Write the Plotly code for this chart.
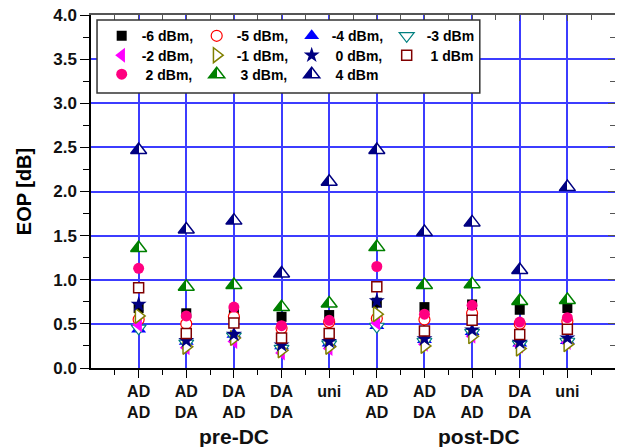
import plotly.graph_objects as go

# ---------------- data ----------------
cat_pos = [1, 2, 3, 4, 5, 6, 7, 8, 9, 10]
line1 = ["AD", "AD", "DA", "DA", "uni", "AD", "AD", "DA", "DA", "uni"]
line2 = ["AD", "DA", "AD", "DA", "", "AD", "DA", "AD", "DA", ""]
groups = ["pre-DC", "post-DC"]
group_pos = [3, 8.15]

names = ["-6 dBm,", "-5 dBm,", "-4 dBm,", "-3 dBm",
         "-2 dBm,", "-1 dBm,", "\u00a00 dBm,", "\u00a01 dBm",
         "\u00a02 dBm,", "\u00a03 dBm,", "\u00a04 dBm"]

p_m6 = [0.68, 0.62, 0.63, 0.58, 0.60, 0.74, 0.69, 0.72, 0.66, 0.68]
p_m5 = [0.55, 0.50, 0.58, 0.45, 0.52, 0.56, 0.55, 0.62, 0.50, 0.53]
p_m4 = [0.44, 0.30, 0.38, 0.25, 0.28, 0.48, 0.32, 0.41, 0.28, 0.31]
p_m3 = [0.45, 0.28, 0.36, 0.22, 0.27, 0.47, 0.30, 0.40, 0.27, 0.30]
p_m2 = [0.49, 0.23, 0.30, 0.17, 0.22, 0.51, 0.27, 0.36, 0.25, 0.29]
p_m1 = [0.59, 0.24, 0.34, 0.20, 0.24, 0.61, 0.25, 0.36, 0.22, 0.27]
p_0 = [0.72, 0.31, 0.38, 0.26, 0.30, 0.76, 0.33, 0.43, 0.29, 0.34]
p_1 = [0.91, 0.39, 0.51, 0.34, 0.39, 0.92, 0.42, 0.54, 0.38, 0.44]
p_2 = [1.13, 0.59, 0.69, 0.48, 0.54, 1.15, 0.61, 0.71, 0.52, 0.57]
p_3 = [1.36, 0.92, 0.94, 0.69, 0.73, 1.37, 0.94, 0.95, 0.76, 0.77]
p_4 = [2.47, 1.57, 1.67, 1.07, 2.11, 2.47, 1.54, 1.65, 1.11, 2.05]

series = [p_m6, p_m5, p_m4, p_m3, p_m2, p_m1, p_0, p_1, p_2, p_3, p_4]

# ---------------- styles ----------------
W = "#FFFFFF"
styles = [
    dict(symbol="square", size=10, color="#000000", line=dict(color="#000000", width=0)),
    dict(symbol="circle", size=11, color=W, line=dict(color="#FF0000", width=1.2)),
    dict(symbol="triangle-up", size=13, color="#0000FF", line=dict(color="#0000FF", width=0)),
    dict(symbol="triangle-down", size=13, color=W, line=dict(color="#008080", width=1.2)),
    dict(symbol="triangle-left", size=13, color="#FF00FF", line=dict(color="#FF00FF", width=0)),
    dict(symbol="triangle-right", size=13, color=W, line=dict(color="#808000", width=1.5)),
    dict(symbol="star", size=12, color="#000080", line=dict(color="#000080", width=0)),
    dict(symbol="square", size=10, color=W, line=dict(color="#800000", width=1.5)),
    dict(symbol="circle", size=11, color="#FF0080", line=dict(color="#FF0080", width=0)),
    dict(symbol="triangle-up", size=14, color="#008000", line=dict(color="#008000", width=1.5),
         gradient=dict(type="horizontal", color=W)),
    dict(symbol="triangle-up", size=14, color="#000080", line=dict(color="#000080", width=1.5),
         gradient=dict(type="horizontal", color=W)),
]
legend_of = ["legend"] * 4 + ["legend2"] * 4 + ["legend3"] * 3

fig = go.Figure()
for name, vals, st, lg in zip(names, series, styles, legend_of):
    fig.add_trace(go.Scatter(x=cat_pos, y=vals, mode="markers", name=name,
                             marker=st, legend=lg, cliponaxis=False))

# invisible trace to anchor the mirrored (top/right) axes
fig.add_trace(go.Scatter(x=[None], y=[None], xaxis="x2", yaxis="y2",
                         showlegend=False, hoverinfo="skip"))

FONT = "Liberation Sans, Arial, sans-serif"
GRID = "#3C3CFF"

fig.update_layout(
    width=618, height=447,
    margin=dict(l=91, r=3, t=15, b=79),
    paper_bgcolor="white", plot_bgcolor="white",
    font=dict(family=FONT, color="black"),
    xaxis=dict(
        range=[0, 11], tickmode="array", tickvals=cat_pos,
        ticktext=[a + "<br>" + b for a, b in zip(line1, line2)],
        tickfont=dict(size=16, weight="bold", color="#111111"),
        showgrid=True, gridcolor=GRID, gridwidth=1.5,
        showline=True, linecolor="black", linewidth=1.5,
        ticks="outside", ticklen=8, tickwidth=1.2, tickcolor="black",
        minor=dict(tickvals=[i + 0.5 for i in range(11)], ticks="outside",
                   ticklen=5, tickwidth=1.2, tickcolor="black", showgrid=False),
        zeroline=False,
    ),
    yaxis=dict(
        range=[0, 4], dtick=0.5, tick0=0, tickformat=".1f",
        tickfont=dict(size=17, weight="bold", color="#111111"),
        showgrid=True, gridcolor=GRID, gridwidth=1.5,
        showline=True, linecolor="black", linewidth=1.5,
        ticks="outside", ticklen=9, tickwidth=1.2, tickcolor="black",
        minor=dict(dtick=0.25, ticks="outside", ticklen=6, tickwidth=1.2,
                   tickcolor="black", showgrid=False),
        zeroline=False,
        title=dict(text="EOP [dB]", font=dict(size=20, weight="bold"), standoff=16),
    ),
    xaxis2=dict(
        range=[0, 11], overlaying="x", side="top", anchor="y",
        showgrid=False, zeroline=False, showticklabels=False,
        showline=True, linecolor="#555555", linewidth=1.5,
        tickmode="array", tickvals=cat_pos, ticks="inside", ticklen=6,
        tickcolor="#555555",
        minor=dict(tickvals=[i + 0.5 for i in range(11)], ticks="inside",
                   ticklen=5, tickcolor="#555555", showgrid=False),
    ),
    yaxis2=dict(
        range=[0, 4], overlaying="y", side="right", anchor="x",
        showgrid=False, zeroline=False, showticklabels=False,
        showline=False,
        dtick=0.5, ticks="inside", ticklen=7, tickcolor="#555555",
        minor=dict(dtick=0.25, ticks="inside", ticklen=5, tickcolor="#555555",
                   showgrid=False),
    ),
    showlegend=True,
)

leg_common = dict(orientation="h", xanchor="left", yanchor="top",
                  bgcolor="rgba(0,0,0,0)", borderwidth=0,
                  entrywidth=50, entrywidthmode="pixels",
                  font=dict(size=14, weight="bold", color="black", family=FONT),
                  itemclick=False, itemdoubleclick=False)
fig.update_layout(
    legend=dict(x=0.0204, y=0.9853, **leg_common),
    legend2=dict(x=0.0204, y=0.9303, **leg_common),
    legend3=dict(x=0.0204, y=0.8765, **leg_common),
)

# legend frame
fig.add_shape(type="rect", xref="paper", yref="paper",
              x0=0.0115, x1=0.742, y0=0.779, y1=0.986,
              line=dict(color="#333333", width=1.5), fillcolor="white", layer="above")

for g, gx in zip(groups, group_pos):
    fig.add_annotation(x=gx, y=-0.1946, xref="x", yref="paper", text=g,
                       showarrow=False, yanchor="middle", xanchor="center",
                       font=dict(size=21, weight="bold", color="#111111", family=FONT))

# make the horizontal marker gradients a sharp half fill (left coloured, right white)
half_fill_js = """
(function(){
  var gd = document.getElementById('{plot_id}');
  function isWhite(c){
    if(!c) return false;
    c = c.replace(/\\s/g,'').toLowerCase();
    return c === '#ffffff' || c === 'white' || c.indexOf('rgb(255,255,255') === 0 || c.indexOf('rgba(255,255,255') === 0;
  }
  function fix(){
    var grads = gd.querySelectorAll('linearGradient');
    grads.forEach(function(g){
      var stops = g.querySelectorAll('stop');
      if(stops.length < 2 || g.getAttribute('data-half')) return;
      var col = null;
      stops.forEach(function(s){ var c = s.getAttribute('stop-color'); if(!isWhite(c)) col = c; });
      if(!col) return;
      while(g.firstChild) g.removeChild(g.firstChild);
      var spec = [[0,col],[0.5,col],[0.5,'#ffffff'],[1,'#ffffff']];
      spec.forEach(function(p){
        var s = document.createElementNS('http://www.w3.org/2000/svg','stop');
        s.setAttribute('offset', p[0]);
        s.setAttribute('stop-color', p[1]);
        s.setAttribute('stop-opacity', 1);
        g.appendChild(s);
      });
      g.setAttribute('x1', 0); g.setAttribute('x2', 1);
      g.setAttribute('y1', 0); g.setAttribute('y2', 0);
      g.setAttribute('data-half', '1');
    });
  }
  fix();
  if(gd.on) gd.on('plotly_afterplot', fix);
})();
"""

fig.write_html("out.html", post_script=half_fill_js)
